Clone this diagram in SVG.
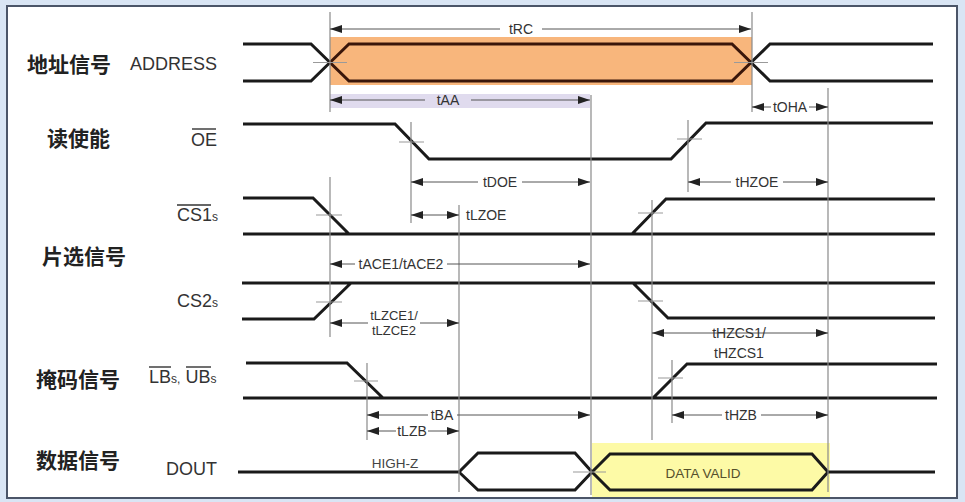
<svg xmlns="http://www.w3.org/2000/svg" width="965" height="502" viewBox="0 0 965 502">
  <style>
    .sig { fill: none; stroke: #1a1a1a; stroke-width: 3; stroke-linejoin: miter; }
    .hex { fill: none; stroke: #3a160a; stroke-width: 3; }
    .ref { fill: none; stroke: #8a8a8a; stroke-width: 1.2; }
    .tick { fill: none; stroke: #9a9a9a; stroke-width: 1.2; }
    .dim { fill: none; stroke: #555; stroke-width: 1; }
    .dl { font-family: "Liberation Sans", Arial, sans-serif; font-size: 14px; fill: #333; text-anchor: middle; }
    .dls { font-family: "Liberation Sans", Arial, sans-serif; font-size: 14px; fill: #333; text-anchor: start; }
    .dl2 { font-family: "Liberation Sans", Arial, sans-serif; font-size: 13px; fill: #333; text-anchor: middle; }
    .sn { font-family: "Liberation Sans", Arial, sans-serif; font-size: 18px; fill: #333; }
    .cn { font-family: "Noto Sans CJK SC", "Noto Sans", sans-serif; font-size: 21px; font-weight: bold; fill: #222; }
    .ov { stroke: #333; stroke-width: 1.4; }
  </style>
  <defs>
    <marker id="ah" viewBox="0 0 12 8" refX="12" refY="4" markerWidth="12" markerHeight="8" orient="auto-start-reverse" markerUnits="userSpaceOnUse">
      <path d="M0,0 L12,4 L0,8 z" fill="#222"/>
    </marker>
  </defs>

  <!-- frame -->
  <rect x="0" y="0" width="965" height="502" fill="#d9e5f4"/>
  <rect x="7" y="6" width="950" height="492" fill="#ffffff" stroke="#4b5568" stroke-width="2"/>

  <!-- highlight areas -->
  <rect x="330" y="37" width="422" height="48" fill="#f8b67c"/>
  <rect x="330" y="94" width="260" height="14" fill="#e0dbee"/>
  <rect x="592" y="443" width="238" height="54" fill="#fdfaa6"/>

  <!-- labels -->
  <g id="labels">
    <text class="cn" x="27" y="72">地址信号</text>
    <text class="cn" x="47" y="146">读使能</text>
    <text class="cn" x="42" y="264">片选信号</text>
    <text class="cn" x="36" y="387">掩码信号</text>
    <text class="cn" x="36" y="468">数据信号</text>
  </g>

  <g id="sig-address">
    <text class="sn" x="217" y="70" text-anchor="end">ADDRESS</text>
    <path class="sig" d="M243,44 H311 L330,62.5 M243,81 H311 L330,62.5"/>
    <path class="hex" d="M330,62.5 L349,44 H732 L751,62.5 L732,81 H349 Z"/>
    <path class="sig" d="M751,62.5 L770,44 H933 M751,62.5 L770,81 H933"/>
  </g>

  <g id="sig-oe">
    <text class="sn" x="217" y="146" text-anchor="end">OE</text>
    <line class="ov" x1="192" y1="129" x2="216" y2="129"/>
    <path class="sig" d="M243,124 H395 L429,159 H671 L706,123 H933"/>
  </g>

  <g id="sig-cs1">
    <text class="sn" x="177" y="221">CS1<tspan font-size="12">s</tspan></text>
    <line class="ov" x1="177" y1="205" x2="211" y2="205"/>
    <path class="sig" d="M243,198 H313 L349,234 M243,234 H935 M632,234 L666,199 H935"/>
  </g>

  <g id="sig-cs2">
    <text class="sn" x="177" y="307">CS2<tspan font-size="12">s</tspan></text>
    <path class="sig" d="M242,283 H935 M242,319 H314 L351,283 M633,283 L668,318 H935"/>
  </g>

  <g id="sig-lbub">
    <text class="sn" x="149" y="383">LB<tspan font-size="12">s,</tspan> UB<tspan font-size="12">s</tspan></text>
    <line class="ov" x1="149" y1="367" x2="171" y2="367"/>
    <line class="ov" x1="186" y1="367" x2="211" y2="367"/>
    <path class="sig" d="M246,363 H347 L383,398 M243,398 H937 M653,398 L687,364 H937"/>
  </g>

  <g id="sig-dout">
    <text class="sn" x="217" y="475" text-anchor="end">DOUT</text>
    <path class="sig" d="M238,472 H459 L478,453 H575 L592,472 L575,490 H478 L459,472"/>
    <path class="sig" d="M592,472 L610,454 H812 L828,472 L812,490 H610 Z M828,472 H935"/>
    <text x="395" y="468" font-family="Liberation Sans, Arial, sans-serif" font-size="13.5" fill="#444" text-anchor="middle">HIGH-Z</text>
    <text x="703" y="478" font-family="Liberation Sans, Arial, sans-serif" font-size="13.5" fill="#55502c" text-anchor="middle">DATA VALID</text>
  </g>

  <g id="connectors">
    <!-- reference verticals -->
    <path class="ref" d="M330,12 V112 M752,12 V112 M828,88 V492 M591,95 V495 M411,122 V223 M688,120 V192 M459,205 V492 M330,177 V337 M652,200 V440 M367,363 V440 M672,360 V423"/>
    <!-- crossing ticks -->
    <path class="tick" d="M313,62.5 H347 M734,62.5 H768 M399,142 H424 M677,139 H702 M316,215 H342 M638,213 H663 M316,302 H342 M638,301 H663 M354,381 H378 M658,378 H683 M573,472 H606"/>

    <!-- tRC -->
    <path class="dim" d="M500,29 H330" marker-end="url(#ah)"/>
    <path class="dim" d="M542,29 H751" marker-end="url(#ah)"/>
    <text class="dl" x="521" y="34">tRC</text>
    <!-- tAA -->
    <path class="dim" d="M425,100 H330" marker-end="url(#ah)"/>
    <path class="dim" d="M471,100 H590" marker-end="url(#ah)"/>
    <text class="dl" x="448" y="105">tAA</text>
    <!-- tOHA -->
    <path class="dim" d="M771,107 H752" marker-end="url(#ah)"/>
    <path class="dim" d="M809,107 H828" marker-end="url(#ah)"/>
    <text class="dl" x="790" y="112">tOHA</text>
    <!-- tDOE -->
    <path class="dim" d="M478,182 H411" marker-end="url(#ah)"/>
    <path class="dim" d="M522,182 H590" marker-end="url(#ah)"/>
    <text class="dl" x="500" y="187">tDOE</text>
    <!-- tHZOE -->
    <path class="dim" d="M731,182 H688" marker-end="url(#ah)"/>
    <path class="dim" d="M783,182 H828" marker-end="url(#ah)"/>
    <text class="dl" x="757" y="187">tHZOE</text>
    <!-- tLZOE -->
    <path class="dim" d="M411,215 H459" marker-start="url(#ah)" marker-end="url(#ah)"/>
    <text class="dls" x="466" y="220">tLZOE</text>
    <!-- tACE1/tACE2 -->
    <path class="dim" d="M355,264 H330" marker-end="url(#ah)"/>
    <path class="dim" d="M447,264 H590" marker-end="url(#ah)"/>
    <text class="dl" x="401" y="269">tACE1/tACE2</text>
    <!-- tLZCE1/tLZCE2 -->
    <path class="dim" d="M368,323 H330" marker-end="url(#ah)"/>
    <path class="dim" d="M420,323 H459" marker-end="url(#ah)"/>
    <text class="dl2" x="394" y="320">tLZCE1/</text>
    <text class="dl2" x="394" y="335">tLZCE2</text>
    <!-- tHZCS1 -->
    <path class="dim" d="M652,333 H828" marker-start="url(#ah)" marker-end="url(#ah)"/>
    <text class="dl" x="739" y="338">tHZCS1/</text>
    <text class="dl" x="739" y="358">tHZCS1</text>
    <!-- tBA -->
    <path class="dim" d="M428,415 H367" marker-end="url(#ah)"/>
    <path class="dim" d="M457,415 H590" marker-end="url(#ah)"/>
    <text class="dl" x="442" y="420">tBA</text>
    <!-- tHZB -->
    <path class="dim" d="M722,415 H672" marker-end="url(#ah)"/>
    <path class="dim" d="M761,415 H828" marker-end="url(#ah)"/>
    <text class="dl" x="741" y="420">tHZB</text>
    <!-- tLZB -->
    <path class="dim" d="M396,431 H367" marker-end="url(#ah)"/>
    <path class="dim" d="M428,431 H459" marker-end="url(#ah)"/>
    <text class="dl" x="412" y="436">tLZB</text>
  </g>
</svg>
